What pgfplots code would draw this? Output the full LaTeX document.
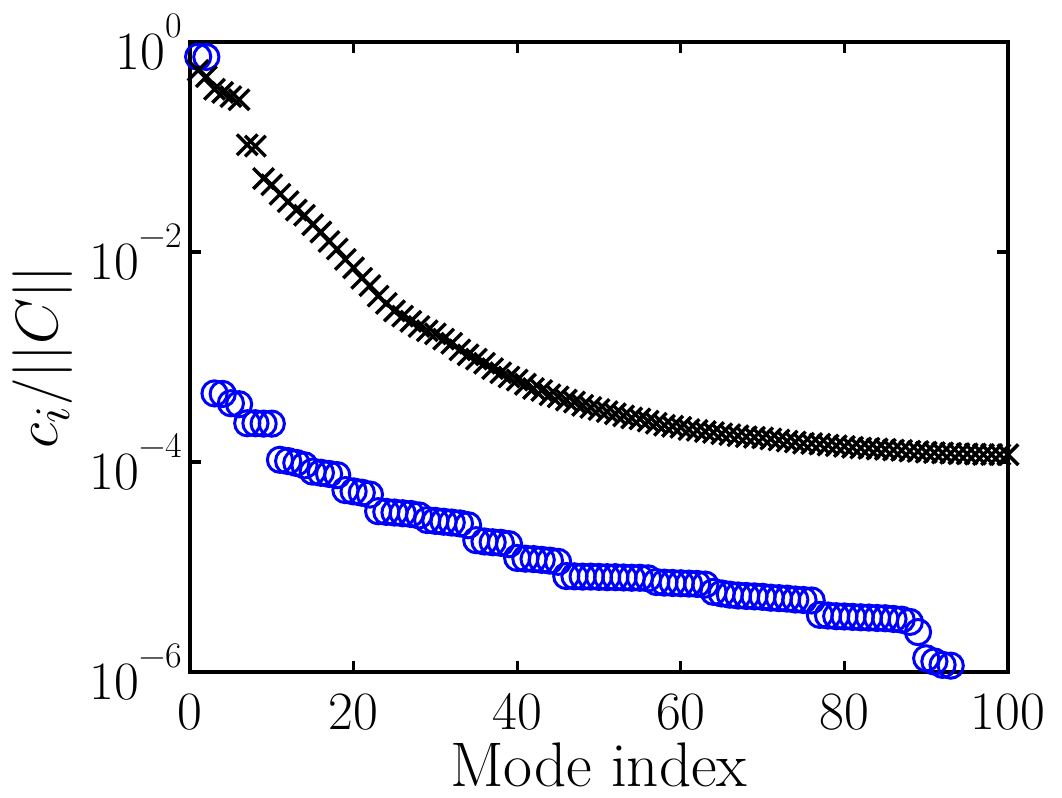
\documentclass[border=0pt]{standalone}
\usepackage{fontspec}
\usepackage{pgfplots}
\pgfplotsset{compat=1.18}
\newcommand{\tickfont}{\fontsize{27}{29}\selectfont}
\newcommand{\ex}[1]{10\raisebox{0.6em}{\fontsize{18}{19}\selectfont #1}}
\begin{document}
\begin{tikzpicture}
\begin{axis}[
  scale only axis, width=409pt, height=315pt,
  xmin=0, xmax=100, ymode=log, ymin=1e-6, ymax=1,
  clip=false,
  xtick={0,20,40,60,80,100},
  xticklabels={0,20,40,60,80,100},
  ytick={1e-6,1e-4,1e-2,1},
  yticklabels={\ex{−6},\ex{−4},\ex{−2},\ex{0}},
  minor tick num=0, yminorticks=false, xminorticks=false,
  ticklabel style={font=\tickfont},
  xticklabel style={anchor=north, inner sep=0pt, yshift=-10.5pt},
  yticklabel style={anchor=east, inner sep=0pt, xshift=-4pt},
  major tick length=5.3pt,
  tick align=inside,
  tick style={line width=1.6pt, black},
  axis line style={line width=1.6pt},
  xlabel={Mode index},
  ylabel={\scalebox{1.2}{\Huge$c_i/||C||$}},
  label style={font=\fontsize{31.5}{33}\selectfont},
  xlabel style={at={(axis description cs:0.5,-0.181)}, anchor=base},
  ylabel style={at={(axis description cs:-0.18,0.5)}, anchor=center},
]
\coordinate (bl) at (rel axis cs:0,0);
\coordinate (tr) at (rel axis cs:1,1);
\addplot[only marks, mark=o, mark size=6.3pt, color=blue, mark options={line width=1.5pt}] coordinates {
(1,0.724) (2,0.72) (3,4.5e-4) (4,4.45e-4) (5,3.63e-4) (6,3.55e-4)
(7,2.34e-4) (8,2.34e-4) (9,2.32e-4) (10,2.32e-4)
(11,1.05e-4) (12,1.02e-4) (13,9.8e-5) (14,9.3e-5)
(15,8.1e-5) (16,7.9e-5) (17,7.7e-5) (18,7.5e-5)
(19,5.4e-5) (20,5.25e-5) (21,5.1e-5) (22,4.9e-5)
(23,3.4e-5) (24,3.35e-5) (25,3.3e-5) (26,3.25e-5) (27,3.2e-5) (28,3.1e-5)
(29,2.8e-5) (30,2.75e-5) (31,2.7e-5) (32,2.65e-5) (33,2.6e-5) (34,2.5e-5)
(35,1.8e-5) (36,1.75e-5) (37,1.72e-5) (38,1.7e-5) (39,1.65e-5)
(40,1.22e-5) (41,1.2e-5) (42,1.19e-5) (43,1.17e-5) (44,1.15e-5) (45,1.12e-5)
(46,8.2e-6) (47,8.15e-6) (48,8.1e-6) (49,8.1e-6) (50,8.05e-6) (51,8.0e-6)
(52,8.0e-6) (53,7.95e-6) (54,7.9e-6) (55,7.9e-6) (56,7.8e-6)
(57,7.2e-6) (58,7.1e-6) (59,7.05e-6) (60,7.0e-6) (61,6.95e-6) (62,6.9e-6) (63,6.8e-6)
(64,5.8e-6) (65,5.6e-6) (66,5.45e-6) (67,5.35e-6) (68,5.3e-6) (69,5.25e-6)
(70,5.2e-6) (71,5.1e-6) (72,5.05e-6) (73,5.0e-6) (74,4.9e-6) (75,4.85e-6) (76,4.8e-6)
(77,3.5e-6) (78,3.45e-6) (79,3.4e-6) (80,3.38e-6) (81,3.35e-6) (82,3.32e-6)
(83,3.3e-6) (84,3.27e-6) (85,3.25e-6) (86,3.2e-6) (87,3.15e-6)
(88,3.0e-6) (89,2.4e-6) (90,1.35e-6) (91,1.26e-6) (92,1.17e-6) (93,1.15e-6)
};
\addplot[only marks, mark=x, mark size=7.3pt, color=black, mark options={line width=1.7pt}] coordinates {
(1,0.537) (2,0.468) (3,0.355) (4,0.331) (5,0.302) (6,0.282)
(7,0.105) (8,0.102) (9,0.0501) (10,0.0437)
(11,0.0355) (12,0.0302) (13,0.0251) (14,0.0224) (15,0.0182) (16,0.0155)
(17,0.0126) (18,0.0107) (19,8.51e-3) (20,7.08e-3) (21,5.62e-3) (22,4.79e-3)
(23,3.80e-3) (24,3.24e-3) (25,2.75e-3) (26,2.45e-3) (27,2.19e-3) (28,1.95e-3)
(29,1.78e-3) (30,1.66e-3) (31,1.48e-3) (32,1.35e-3) (33,1.17e-3) (34,1.05e-3)
(35,9.55e-4) (36,8.71e-4) (37,7.76e-4) (38,7.08e-4) (39,6.46e-4) (40,6.03e-4)
(41,5.50e-4) (42,5.01e-4) (43,4.79e-4) (44,4.37e-4) (45,4.17e-4) (46,3.89e-4)
(47,3.72e-4) (48,3.47e-4) (49,3.31e-4) (50,3.16e-4) (51,3.02e-4) (52,2.88e-4)
(53,2.75e-4) (54,2.63e-4) (55,2.57e-4) (56,2.45e-4) (57,2.34e-4) (58,2.24e-4)
(59,2.19e-4) (60,2.14e-4) (61,2.04e-4) (62,2.00e-4) (63,1.95e-4) (64,1.91e-4)
(65,1.86e-4) (66,1.82e-4) (67,1.78e-4) (68,1.74e-4) (69,1.72e-4) (70,1.70e-4)
(71,1.66e-4) (72,1.62e-4) (73,1.58e-4) (74,1.55e-4) (75,1.51e-4) (76,1.50e-4)
(77,1.48e-4) (78,1.45e-4) (79,1.43e-4) (80,1.41e-4) (81,1.38e-4) (82,1.36e-4)
(83,1.35e-4) (84,1.33e-4) (85,1.32e-4) (86,1.30e-4) (87,1.29e-4) (88,1.27e-4)
(89,1.26e-4) (90,1.24e-4) (91,1.23e-4) (92,1.22e-4) (93,1.21e-4) (94,1.20e-4)
(95,1.197e-4) (96,1.19e-4) (97,1.18e-4) (98,1.178e-4) (99,1.175e-4) (100,1.175e-4)
};
\end{axis}
\pgfresetboundingbox
\path[use as bounding box] ([xshift=-95pt,yshift=-63pt]bl) rectangle ([xshift=27pt,yshift=21pt]tr);
\end{tikzpicture}
\end{document}
